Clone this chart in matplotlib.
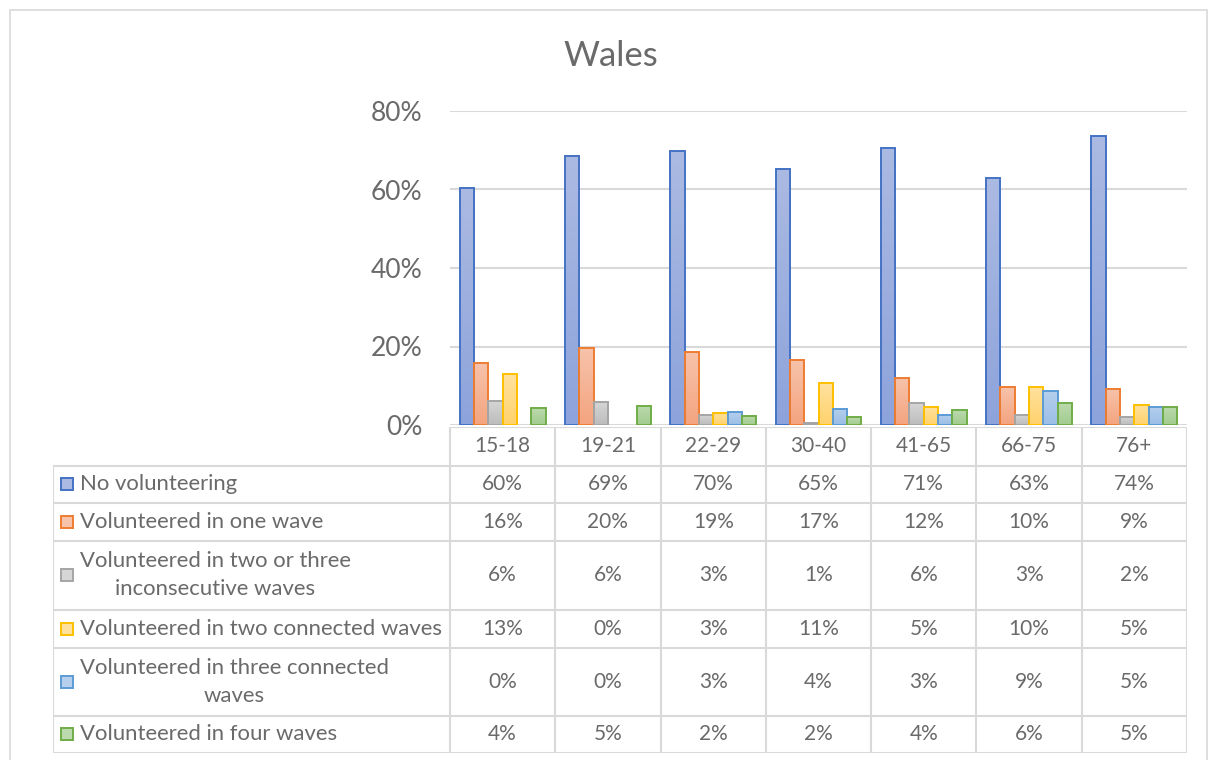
import numpy as np
import matplotlib
matplotlib.use("Agg")
import matplotlib.pyplot as plt
from matplotlib.colors import LinearSegmentedColormap
from matplotlib.patches import Rectangle

plt.rcParams['font.family'] = ['Lato', 'DejaVu Sans']

# categories and series (percent)
age_groups = ['15-18', '19-21', '22-29', '30-40', '41-65', '66-75', '76+']
series_names = ['No volunteering',
                'Volunteered in one wave',
                'Volunteered in two or three\ninconsecutive waves',
                'Volunteered in two connected waves',
                'Volunteered in three connected\nwaves',
                'Volunteered in four waves']
no_volunteering = [60.4, 68.6, 69.8, 65.2, 70.6, 62.9, 73.6]
one_wave = [15.7, 19.7, 18.6, 16.6, 12.0, 9.8, 9.2]
two_three_inconsec = [6.2, 5.9, 2.6, 0.6, 5.6, 2.6, 2.1]
two_connected = [12.9, 0.0, 3.1, 10.6, 4.6, 9.6, 5.1]
three_connected = [0.0, 0.0, 3.3, 4.1, 2.6, 8.6, 4.6]
four_waves = [4.3, 4.9, 2.3, 2.0, 3.8, 5.6, 4.6]
all_series = [no_volunteering, one_wave, two_three_inconsec,
              two_connected, three_connected, four_waves]

edge_cols = ['#4472c4', '#ed7d31', '#a5a5a5', '#ffc000', '#5b9bd5', '#70ad47']
top_cols = ['#abbae2', '#f7c3ab', '#d6d6d6', '#ffe19e', '#b5cfed', '#bbdaad']
bot_cols = ['#8da3db', '#f4a47f', '#bcbcbc', '#ffd26c', '#9bbee6', '#a2cc8f']
txt = '#6a6a6a'
grid_col = '#d9d9d9'

W, H = 1214, 760
fig = plt.figure(figsize=(W / 100, H / 100), dpi=100)

# outer chart border
fig.add_artist(Rectangle((10 / W, -0.01), 1197 / W, 1 - 10 / H + 0.01,
                         transform=fig.transFigure, fill=False,
                         edgecolor=grid_col, lw=1.2))

ax = fig.add_axes([450 / W, 1 - 425 / H, 737 / W, 314 / H])
n = len(all_series)
bw = 0.136
x = np.arange(len(age_groups))
grad = np.linspace(1, 0, 100).reshape(-1, 1)
for i, vals in enumerate(all_series):
    pos = x + 0.5 + (i - (n - 1) / 2) * bw
    bars = ax.bar(pos, vals, bw, facecolor='none', edgecolor=edge_cols[i],
                  lw=[1.4 if v > 0 else 0 for v in vals], zorder=3)
    cmap = LinearSegmentedColormap.from_list('g%d' % i, [bot_cols[i], top_cols[i]])
    for b in bars:
        if b.get_height() <= 0:
            continue
        x0, y0 = b.get_xy()
        im = ax.imshow(grad, extent=[x0, x0 + b.get_width(), y0, y0 + b.get_height()],
                       aspect='auto', cmap=cmap, vmin=0, vmax=1, zorder=2)
        im.set_clip_path(b)

ax.set_xlim(0, len(age_groups))
ax.set_ylim(0, 80)
ax.set_yticks([0, 20, 40, 60, 80])
ax.set_yticklabels(['%d%%' % t for t in [0, 20, 40, 60, 80]])
ax.tick_params(axis='y', length=0, labelsize=19, labelcolor=txt, pad=20)
ax.set_xticks([])
for s in ax.spines.values():
    s.set_visible(False)
ax.grid(axis='y', color=grid_col, lw=1.5, zorder=0)
ax.set_axisbelow(True)
fig.text(611 / W, 1 - 56 / H, 'Wales', ha='center', va='center',
         fontsize=25, color=txt)

# data table below the plot
unit = 737 / 7
left_x = -(450 - 53) / unit
row_edges = [427, 466, 503, 541, 610, 648, 716, 753]
tab = fig.add_axes([53 / W, 1 - 753 / H, (1187 - 53) / W, (753 - 427) / H])
tab.set_xlim(left_x, len(age_groups))
tab.set_ylim(753, 427)
tab.axis('off')
lc = dict(color=grid_col, lw=1.5)
# header row
tab.plot([0, len(age_groups)], [row_edges[0]] * 2, **lc)
tab.plot([left_x, len(age_groups)], [row_edges[1]] * 2, **lc)
for k in range(len(age_groups) + 1):
    tab.plot([k, k], [row_edges[0], row_edges[-1]], **lc)
for k, g in enumerate(age_groups):
    tab.text(k + 0.5, (row_edges[0] + row_edges[1]) / 2, g, ha='center',
             va='center', fontsize=15, color=txt)
tab.plot([left_x, left_x], [row_edges[1], row_edges[-1]], **lc)
for r, (name, vals) in enumerate(zip(series_names, all_series)):
    y0, y1 = row_edges[r + 1], row_edges[r + 2]
    yc = (y0 + y1) / 2
    tab.plot([left_x, len(age_groups)], [y1, y1], **lc)
    tab.add_patch(Rectangle((left_x + 8 / unit, yc - 6), 12 / unit, 12,
                            facecolor=top_cols[r], edgecolor=edge_cols[r], lw=1.4))
    tab.text(left_x + 27 / unit, yc, name, ha='left', va='center',
             multialignment='center', fontsize=15.9, color=txt, linespacing=1.5)
    for k, v in enumerate(vals):
        tab.text(k + 0.5, yc, '%.0f%%' % v, ha='center', va='center',
                 fontsize=15, color=txt)

fig.savefig('out.png', dpi=100)
